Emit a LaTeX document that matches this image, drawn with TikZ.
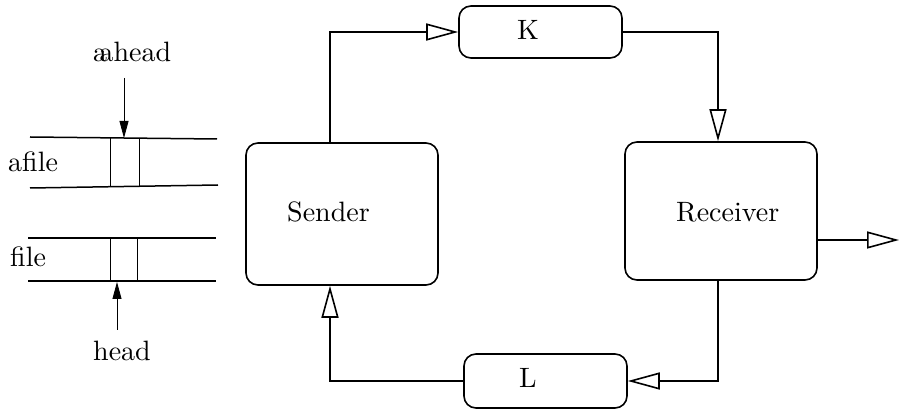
\documentclass[tikz,border=0pt]{standalone}
\usetikzlibrary{arrows.meta,calc}
\newcommand\bigtx[1]{\scalebox{2.8}{\fontsize{10}{12}\selectfont #1}}
\begin{document}
\begin{tikzpicture}[x=1pt,y=-1pt,
  box/.style={draw,line width=1.6pt,rounded corners=12pt,inner sep=0pt},
  txt/.style={inner sep=0pt,anchor=base west},
  oarr/.style={line width=1.6pt,-{Triangle[open,length=32pt,width=17pt]}},
  farr/.style={line width=0.8pt,-{Triangle[length=17pt,width=9pt]}},
  tape/.style={line width=1.5pt},
  cell/.style={line width=0.8pt}]
\useasboundingbox (0,0) rectangle (899,411);
% boxes
\node[box,minimum width=192pt,minimum height=142pt] (S) at (342,214) {};
\node[box,minimum width=192pt,minimum height=138pt] (R) at (721,211) {};
\node[box,minimum width=163pt,minimum height=52pt] (K) at (540.5,32) {};
\node[box,minimum width=163pt,minimum height=54pt] (L) at (545.5,381) {};
\node[txt] (St) at (287,222) {\bigtx{Sender}};
\node[txt] (Rt) at (676,222) {\bigtx{Receiver}};
\node[txt] (Kt) at (517,40) {\bigtx{K}};
\node[txt] (Lt) at (519,387) {\bigtx{L}};
% connectors
\coordinate (sx) at (330,0);
\coordinate (rx) at (718,0);
\coordinate (out) at (899,240);
\draw[oarr] (S.north -| sx) |- (K.west);
\draw[oarr] (K.east) -| (R.north -| rx);
\draw[oarr] ($(R.east)+(0,29)$) -- (out |- {$(R.east)+(0,29)$});
\draw[oarr] (R.south -| rx) |- (L.east);
\draw[oarr] (L.west) -| (S.south -| sx);
% tapes
\coordinate (a1) at (30,137); \coordinate (a2) at (217,139);
\coordinate (a3) at (30,188); \coordinate (a4) at (218,185);
\draw[tape] (a1) -- (a2);
\draw[tape] (a3) -- (a4);
\coordinate (c1t) at (110,138); \coordinate (c1b) at (110,187);
\coordinate (c2t) at (139,138); \coordinate (c2b) at (139,186);
\draw[cell] (c1t) -- (c1b);
\draw[cell] (c2t) -- (c2b);
\coordinate (b1) at (28,238); \coordinate (b2) at (216,238);
\coordinate (b3) at (28,281); \coordinate (b4) at (216,281);
\draw[tape] (b1) -- (b2);
\draw[tape] (b3) -- (b4);
\coordinate (d1t) at (110,238); \coordinate (d1b) at (110,281);
\coordinate (d2t) at (137,238); \coordinate (d2b) at (137,281);
\draw[cell] (d1t) -- (d1b);
\draw[cell] (d2t) -- (d2b);
% labels
\node[txt] (ah) at (93,62) {\bigtx{a\kern-.27em ahead}};
\node[txt] (af) at (8,172) {\bigtx{afile}};
\node[txt] (fi) at (10,267) {\bigtx{file}};
\node[txt] (hd) at (93,360) {\bigtx{head}};
\coordinate (ahs) at (124,78); \coordinate (ahe) at (124,138);
\coordinate (hds) at (117,330); \coordinate (hde) at (117,282);
\draw[farr] (ahs) -- (ahe);
\draw[farr] (hds) -- (hde);
\end{tikzpicture}
\end{document}
